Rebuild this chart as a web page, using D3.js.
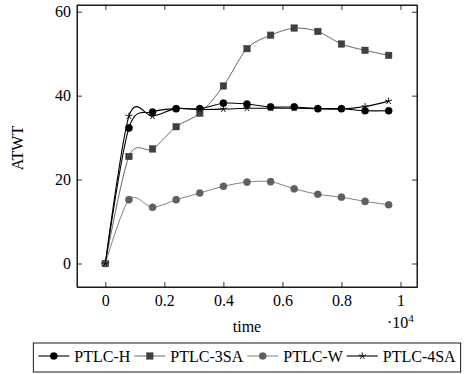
<!DOCTYPE html>
<html lang="en">
<head>
<meta charset="UTF-8">
<title>ATWT over time</title>
<script src="https://cdn.jsdelivr.net/npm/d3@7"></script>
<style>
body { margin: 0; background: #fff; }
svg text { font-family: "Liberation Serif", "Times New Roman", serif !important; font-size: 16px; fill: #000; }
.axis path, .axis line { stroke: #000; stroke-width: 0.8px; }
</style>
</head>
<body>
<div id="chart"></div>
<script>
// data
const times = [0, 800, 1600, 2400, 3200, 4000, 4800, 5600, 6400, 7200, 8000, 8800, 9600];
const ptlcH   = [0, 32.3, 36.1, 36.9, 36.9, 38.2, 38.0, 37.3, 37.3, 36.9, 36.9, 36.4, 36.4];
const ptlc3SA = [0, 25.5, 27.3, 32.6, 35.8, 42.3, 51.2, 54.4, 56.1, 55.3, 52.3, 50.8, 49.6];
const ptlcW   = [0, 15.2, 13.4, 15.2, 16.8, 18.4, 19.4, 19.5, 17.8, 16.5, 15.8, 14.8, 14.0];
const ptlc4SA = [0, 35.1, 35.1, 36.9, 36.7, 36.8, 37.0, 37.0, 37.0, 36.9, 36.8, 37.4, 38.7];
const xTicks = [0, 2000, 4000, 6000, 8000, 10000];
const yTicks = [0, 20, 40, 60];

const series = [
    {name: "PTLC-H",   values: ptlcH,   color: "#000",    mark: "circle", lw: 1.1},
    {name: "PTLC-3SA", values: ptlc3SA, color: "#404040", mark: "square", lw: 0.8},
    {name: "PTLC-W",   values: ptlcW,   color: "#5f5f5f", mark: "circle", lw: 0.8},
    {name: "PTLC-4SA", values: ptlc4SA, color: "#000",    mark: "star",   lw: 1.1}
];

const width = 470, height = 374;
const plotLeft = 77, plotRight = 417, plotTop = 5, plotBottom = 287;

const svg = d3.select("#chart").append("svg")
    .attr("width", width)
    .attr("height", height)
    .attr("font-family", "Liberation Serif");

const x = d3.scaleLinear().domain([-960, 10560]).range([plotLeft, plotRight]);
const y = d3.scaleLinear().domain([-5.6, 61.6]).range([plotBottom, plotTop]);

const fmt = d => d === 0 ? "0" : d === 10000 ? "1" : String(+(d / 10000).toFixed(1));

svg.append("g").attr("class", "axis")
    .attr("transform", `translate(0,${plotBottom})`)
    .call(d3.axisBottom(x).tickValues(xTicks).tickFormat(fmt).tickSizeInner(-5).tickSizeOuter(0).tickPadding(8));
svg.append("g").attr("class", "axis")
    .attr("transform", `translate(0,${plotTop})`)
    .call(d3.axisTop(x).tickValues(xTicks).tickFormat("").tickSizeInner(-5).tickSizeOuter(0));
svg.append("g").attr("class", "axis")
    .attr("transform", `translate(${plotLeft},0)`)
    .call(d3.axisLeft(y).tickValues(yTicks).tickSizeInner(-5).tickSizeOuter(0).tickPadding(6));
svg.append("g").attr("class", "axis")
    .attr("transform", `translate(${plotRight},0)`)
    .call(d3.axisRight(y).tickValues(yTicks).tickFormat("").tickSizeInner(-5).tickSizeOuter(0));
svg.selectAll(".axis").attr("font-family", null).attr("font-size", null);

svg.append("rect")
    .attr("x", plotLeft).attr("y", plotTop)
    .attr("width", plotRight - plotLeft).attr("height", plotBottom - plotTop)
    .attr("fill", "none").attr("stroke", "#000").attr("stroke-width", 0.9);

svg.append("text")
    .attr("transform", `translate(23,${(plotTop + plotBottom) / 2 + 2}) rotate(-90)`)
    .attr("text-anchor", "middle")
    .text("ATWT");
svg.append("text")
    .attr("x", (plotLeft + plotRight) / 2).attr("y", 332)
    .attr("text-anchor", "middle")
    .text("time");
const exp = svg.append("text").attr("x", 387).attr("y", 328);
exp.append("tspan").text("·10");
exp.append("tspan").attr("dy", -6).style("font-size", "11px").text("4");

function drawMark(g, kind, color) {
    if (kind === "circle") {
        g.append("circle").attr("r", 3.6).attr("fill", color).attr("stroke", color).attr("stroke-width", 0.4);
    } else if (kind === "square") {
        g.append("rect").attr("x", -3.3).attr("y", -3.3).attr("width", 6.6).attr("height", 6.6)
            .attr("fill", color).attr("stroke", color).attr("stroke-width", 0.4);
    } else {
        const r = 3.6;
        for (let k = 0; k < 5; k++) {
            const a = -Math.PI / 2 + k * 2 * Math.PI / 5;
            g.append("line").attr("x1", 0).attr("y1", 0)
                .attr("x2", r * Math.cos(a)).attr("y2", r * Math.sin(a))
                .attr("stroke", color).attr("stroke-width", 0.9);
        }
    }
}

const line = d3.line()
    .x((d, i) => x(times[i]))
    .y(d => y(d))
    .curve(d3.curveCardinal.tension(0.1));

series.forEach(s => {
    svg.append("path")
        .datum(s.values)
        .attr("fill", "none")
        .attr("stroke", s.color)
        .attr("stroke-width", s.lw)
        .attr("d", line);
});
series.forEach(s => {
    s.values.forEach((v, i) => {
        const g = svg.append("g").attr("transform", `translate(${x(times[i])},${y(v)})`);
        drawMark(g, s.mark, s.color);
    });
});

// legend, laid out from the measured label widths and centred under the axis
const legend = svg.append("g");
const box = legend.append("rect")
    .attr("y", 343).attr("height", 29)
    .attr("fill", "#fff").attr("stroke", "#000").attr("stroke-width", 0.9);
const items = legend.append("g");
let cx = 0;
const ly = 356;
series.forEach(s => {
    items.append("line").attr("x1", cx).attr("x2", cx + 31).attr("y1", ly).attr("y2", ly)
        .attr("stroke", s.color).attr("stroke-width", s.lw);
    drawMark(items.append("g").attr("transform", `translate(${cx + 15.5},${ly})`), s.mark, s.color);
    const t = items.append("text").attr("x", cx + 36).attr("y", ly + 5.5).text(s.name);
    cx += 36 + t.node().getComputedTextLength() + 4;
});
const boxW = cx + 6;
const boxX = (plotLeft + plotRight) / 2 - boxW / 2;
box.attr("x", boxX).attr("width", boxW);
items.attr("transform", `translate(${boxX + 5},0)`);
</script>
</body>
</html>
